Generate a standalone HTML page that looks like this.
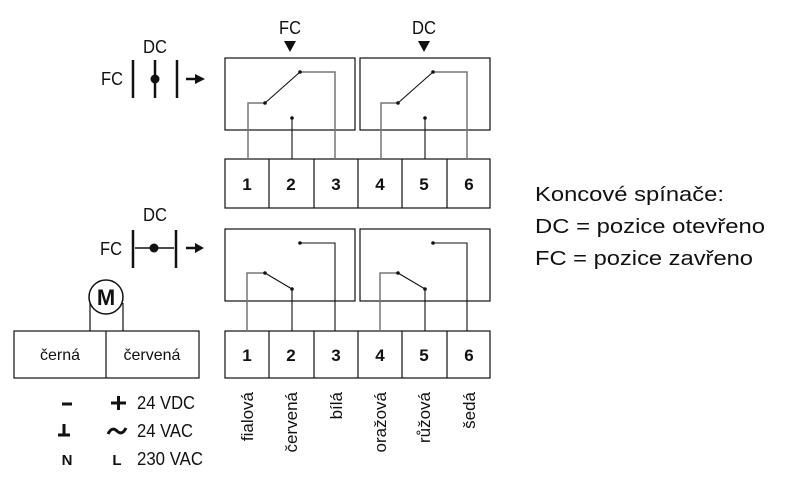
<!DOCTYPE html>
<html><head><meta charset="utf-8"><style>
html,body{margin:0;padding:0;background:#fff;}
svg{display:block;}
text{font-family:"Liberation Sans",sans-serif;fill:#111;}
</style></head><body>
<svg width="787" height="478" viewBox="0 0 787 478" xmlns="http://www.w3.org/2000/svg">
<g fill="none" stroke="#111" stroke-width="1.2">
<rect x="225" y="58" width="130" height="72"/>
<rect x="360" y="58" width="130" height="72"/>
<rect x="225" y="159" width="265" height="49"/>
<line x1="269" y1="159" x2="269" y2="208"/><line x1="314" y1="159" x2="314" y2="208"/>
<line x1="358" y1="159" x2="358" y2="208"/><line x1="402" y1="159" x2="402" y2="208"/>
<line x1="447" y1="159" x2="447" y2="208"/>
<rect x="225" y="229" width="130" height="72"/>
<rect x="360" y="229" width="130" height="72"/>
<rect x="225" y="331" width="265" height="47"/>
<line x1="269" y1="331" x2="269" y2="378"/><line x1="314" y1="331" x2="314" y2="378"/>
<line x1="358" y1="331" x2="358" y2="378"/><line x1="402" y1="331" x2="402" y2="378"/>
<line x1="447" y1="331" x2="447" y2="378"/>
<rect x="14" y="331" width="185" height="47"/>
<line x1="106" y1="331" x2="106" y2="378"/>
<circle cx="106" cy="297" r="17" stroke-width="1.5"/>
<line x1="90" y1="303" x2="90" y2="331"/><line x1="123" y1="303" x2="123" y2="331"/>
</g>
<g fill="none" stroke-width="1.5">
<polyline points="248,159 248,103 265,103" stroke="#777"/>
<polyline points="300,72 335,72 335,159" stroke="#777"/>
<polyline points="381,159 381,103 398,103" stroke="#777"/>
<polyline points="433,72 467,72 467,159" stroke="#777"/>
<polyline points="247,331 247,273 265,273" stroke="#777"/>
<polyline points="380,331 380,273 398,273" stroke="#777"/>
</g>
<g fill="none" stroke="#111" stroke-width="1.1">
<line x1="265" y1="103" x2="300" y2="72"/>
<line x1="398" y1="103" x2="433" y2="72"/>
<line x1="292" y1="118" x2="292" y2="159"/>
<line x1="425" y1="118" x2="425" y2="159"/>
<line x1="265" y1="273" x2="292" y2="289"/><line x1="292" y1="289" x2="292" y2="331"/>
<line x1="398" y1="273" x2="425" y2="289"/><line x1="425" y1="289" x2="425" y2="331"/>
<polyline points="300,243 335,243 335,331"/>
<polyline points="433,243 467,243 467,331"/>
</g>
<g fill="#111">
<circle cx="265" cy="103" r="1.8"/><circle cx="300" cy="72" r="1.8"/><circle cx="292" cy="118" r="1.8"/>
<circle cx="398" cy="103" r="1.8"/><circle cx="433" cy="72" r="1.8"/><circle cx="425" cy="118" r="1.8"/>
<circle cx="265" cy="273" r="1.8"/><circle cx="292" cy="289" r="1.8"/><circle cx="300" cy="243" r="1.8"/>
<circle cx="398" cy="273" r="1.8"/><circle cx="425" cy="289" r="1.8"/><circle cx="433" cy="243" r="1.8"/>
<polygon points="284,41 296,41 290,52"/>
<polygon points="418,41 430,41 424,52"/>
</g>
<g stroke="#111" stroke-width="2.5" fill="none">
<line x1="133" y1="60" x2="133" y2="98"/><line x1="155" y1="60" x2="155" y2="98"/><line x1="177" y1="60" x2="177" y2="98"/>
<line x1="186" y1="79" x2="196" y2="79"/>
<line x1="133" y1="230" x2="133" y2="268"/><line x1="176" y1="230" x2="176" y2="268"/>
<line x1="186" y1="248" x2="196" y2="248"/>
</g>
<line x1="135" y1="248" x2="174" y2="248" stroke="#111" stroke-width="1.5"/>
<g fill="#111">
<circle cx="155" cy="79" r="4.5"/><circle cx="154" cy="248" r="4.5"/>
<polygon points="195,74 205,79 195,84"/><polygon points="195,243 204,248 195,253"/>
</g>
<g font-size="18">
<text x="290" y="34" text-anchor="middle" textLength="22" lengthAdjust="spacingAndGlyphs">FC</text>
<text x="424" y="34" text-anchor="middle" textLength="24" lengthAdjust="spacingAndGlyphs">DC</text>
<text x="155" y="53" text-anchor="middle" textLength="24" lengthAdjust="spacingAndGlyphs">DC</text>
<text x="112" y="85" text-anchor="middle" textLength="22" lengthAdjust="spacingAndGlyphs">FC</text>
<text x="155" y="221" text-anchor="middle" textLength="24" lengthAdjust="spacingAndGlyphs">DC</text>
<text x="111" y="255" text-anchor="middle" textLength="22" lengthAdjust="spacingAndGlyphs">FC</text>
</g>
<text x="106" y="305" font-size="22" font-weight="bold" text-anchor="middle">M</text>
<g font-size="17" font-weight="bold" text-anchor="middle">
<text x="247" y="190">1</text><text x="291" y="190">2</text><text x="336" y="190">3</text>
<text x="380" y="190">4</text><text x="424" y="190">5</text><text x="469" y="190">6</text>
<text x="247" y="361">1</text><text x="291" y="361">2</text><text x="336" y="361">3</text>
<text x="380" y="361">4</text><text x="424" y="361">5</text><text x="469" y="361">6</text>
</g>
<g font-size="16" text-anchor="middle">
<text x="60" y="360">černá</text><text x="152" y="360">červená</text>
</g>
<!-- power symbols -->
<g stroke="#111" stroke-width="3" fill="none">
<line x1="62" y1="404" x2="72" y2="404"/>
<line x1="111" y1="403" x2="126" y2="403"/><line x1="118.5" y1="396" x2="118.5" y2="410"/>
<line x1="58" y1="435" x2="70" y2="435"/><line x1="64" y1="424" x2="64" y2="435"/>
<path d="M108 434 Q112 426 117 431 T126 428"/>
</g>
<g font-size="18">
<text x="137" y="409" textLength="58" lengthAdjust="spacingAndGlyphs">24 VDC</text>
<text x="137" y="437" textLength="56" lengthAdjust="spacingAndGlyphs">24 VAC</text>
<text x="67" y="465" text-anchor="middle" font-weight="bold" font-size="15">N</text>
<text x="117" y="465" text-anchor="middle" font-weight="bold" font-size="15">L</text>
<text x="137" y="465" textLength="66" lengthAdjust="spacingAndGlyphs">230 VAC</text>
</g>
<g font-size="17" text-anchor="end">
<text transform="translate(253,392) rotate(-90)">fialová</text>
<text transform="translate(297,392) rotate(-90)">červená</text>
<text transform="translate(342,392) rotate(-90)">bílá</text>
<text transform="translate(386,392) rotate(-90)">oražová</text>
<text transform="translate(430,392) rotate(-90)">růžová</text>
<text transform="translate(475,392) rotate(-90)">šedá</text>
</g>
<g font-size="20">
<text x="535" y="201" textLength="189" lengthAdjust="spacingAndGlyphs">Koncové spínače:</text>
<text x="535" y="233" textLength="230" lengthAdjust="spacingAndGlyphs">DC = pozice otevřeno</text>
<text x="535" y="265" textLength="218" lengthAdjust="spacingAndGlyphs">FC = pozice zavřeno</text>
</g>
</svg>
</body></html>
